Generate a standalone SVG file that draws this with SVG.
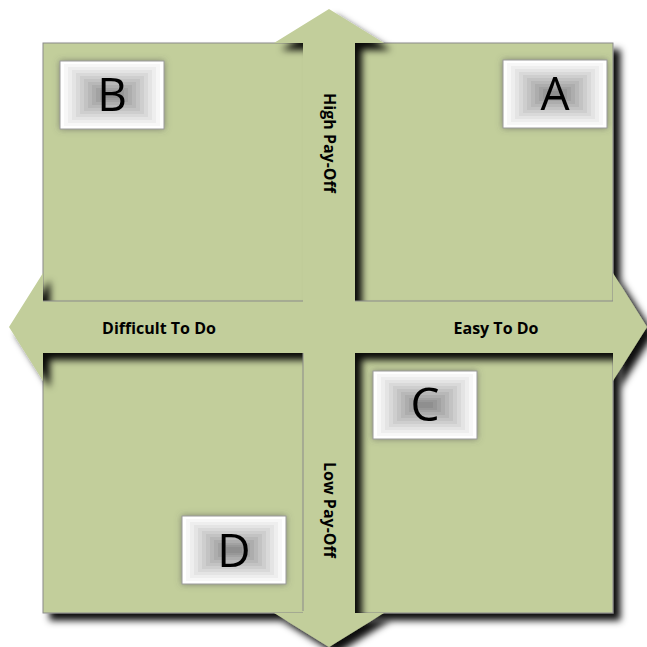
<svg xmlns="http://www.w3.org/2000/svg" xmlns:xlink="http://www.w3.org/1999/xlink" width="647" height="647" viewBox="0 0 647 647">
<style>
.ax{font-family:"Open Sans","Liberation Sans",sans-serif;font-weight:bold;font-size:16px;fill:#000;text-anchor:middle}
.lt{font-family:"Open Sans","Liberation Sans",sans-serif;font-size:46px;fill:#000;text-anchor:middle}
.edge{stroke:#8a8a8a;stroke-width:1;fill:none}
</style>
<defs>
<filter id="sh" x="-10%" y="-10%" width="130%" height="130%">
<feDropShadow dx="7" dy="7" stdDeviation="3.5" flood-color="#000" flood-opacity="0.95"/>
</filter>
<filter id="glow" x="-20%" y="-30%" width="140%" height="160%">
<feDropShadow dx="0" dy="0" stdDeviation="3" flood-color="#555" flood-opacity="0.6"/>
</filter>
<g id="box">
<rect x="0" y="0" width="104" height="68" fill="#ffffff" stroke="#9a9a9a" stroke-width="1"/>
<rect x="4" y="3" width="96" height="62" fill="#f7f7f7"/>
<rect x="8" y="6" width="88" height="56" fill="#eeeeee"/>
<rect x="12" y="9" width="80" height="50" fill="#e4e4e4"/>
<rect x="16" y="12" width="72" height="44" fill="#d9d9d9"/>
<rect x="20" y="15" width="64" height="38" fill="#cecece"/>
<rect x="24" y="18" width="56" height="32" fill="#c3c3c3"/>
<rect x="28" y="21" width="48" height="26" fill="#b8b8b8"/>
<rect x="32" y="24" width="40" height="20" fill="#adadad"/>
<rect x="36" y="27" width="32" height="14" fill="#a2a2a2"/>
<rect x="40" y="29" width="24" height="10" fill="#989898"/>
<rect x="44" y="31" width="16" height="6" fill="#8f8f8f"/>
</g>
</defs>
<g id="quadrants">
<rect x="43" y="43" width="570" height="570" fill="#c2ce9b" stroke="#8a8a8a" stroke-width="1" filter="url(#sh)"/>
</g>
<g id="connectors">
<polygon fill="#c2ce9b" filter="url(#sh)" points="329,9 384,43 355,43 355,301 613,301 613,273 647,327 613,381 613,353 355,353 355,613 384,613 329,647 274,613 303,613 303,353 43,353 43,381 9,327 43,273 43,301 303,301 303,43 274,43"/>
<line class="edge" x1="43" y1="301" x2="303" y2="301"/>
<line class="edge" x1="355" y1="301" x2="613" y2="301"/>
<line class="edge" x1="303" y1="353" x2="303" y2="611"/>
</g>
<g id="axis-labels">
<text class="ax" transform="translate(324,143) rotate(90)">High Pay-Off</text>
<text class="ax" transform="translate(324,510) rotate(90)">Low Pay-Off</text>
<text class="ax" x="159" y="334">Difficult To Do</text>
<text class="ax" x="496" y="334">Easy To Do</text>
</g>
<g id="node-B" filter="url(#glow)">
<use xlink:href="#box" href="#box" transform="translate(60,61)"/>
<text class="lt" x="112" y="111">B</text>
</g>
<g id="node-A" filter="url(#glow)">
<use xlink:href="#box" href="#box" transform="translate(503,60)"/>
<text class="lt" x="555" y="110">A</text>
</g>
<g id="node-C" filter="url(#glow)">
<use xlink:href="#box" href="#box" transform="translate(373,371)"/>
<text class="lt" x="425" y="421">C</text>
</g>
<g id="node-D" filter="url(#glow)">
<use xlink:href="#box" href="#box" transform="translate(182,516)"/>
<text class="lt" x="234" y="567">D</text>
</g>
</svg>
